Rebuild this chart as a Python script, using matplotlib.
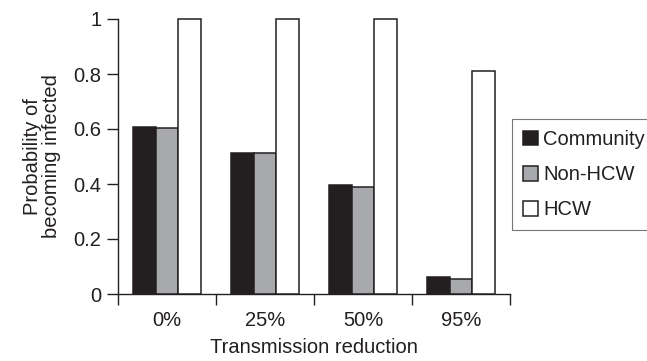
import numpy as np
import matplotlib.pyplot as plt

plt.rcParams['font.family'] = ['Liberation Sans', 'DejaVu Sans']

categories = ['0%', '25%', '50%', '95%']
community = [0.607, 0.513, 0.396, 0.062]
non_hcw = [0.604, 0.513, 0.389, 0.055]
hcw = [1.0, 1.0, 1.0, 0.81]
series = ['Community', 'Non-HCW', 'HCW']
y_ticks = [0, 0.2, 0.4, 0.6, 0.8, 1]
y_labels = ['0', '0.2', '0.4', '0.6', '0.8', '1']

fs = 14.5
ink = '#231f20'

fig = plt.figure(figsize=(6.47, 3.61), dpi=100)
ax = fig.add_axes([118 / 647, 67 / 361, 392 / 647, 275 / 361])

x = np.arange(len(categories))
w = 0.23
colors = [ink, '#a7a9ac', 'white']
for i, (vals, c, name) in enumerate(zip([community, non_hcw, hcw], colors, series)):
    ax.bar(x + (i - 1) * w, vals, width=w, color=c, edgecolor=ink,
           linewidth=1.1, label=name, clip_on=False, zorder=3)

ax.set_xlim(-0.5, len(categories) - 0.5)
ax.set_ylim(0, 1)
ax.set_xticks(x)
ax.set_xticklabels(categories)
ax.set_xticks(np.arange(len(categories) + 1) - 0.5, minor=True)
ax.tick_params(axis='x', which='major', length=0, pad=12)
ax.tick_params(axis='x', which='minor', length=8, width=1, direction='out', color=ink)
ax.set_yticks(y_ticks)
ax.set_yticklabels(y_labels)
ax.tick_params(axis='y', length=8, width=1, direction='out', color=ink, pad=4)
ax.tick_params(labelsize=fs, labelcolor=ink)

for s in ['top', 'right']:
    ax.spines[s].set_visible(False)
for s in ['left', 'bottom']:
    ax.spines[s].set_color(ink)
    ax.spines[s].set_linewidth(1)

ax.set_xlabel('Transmission reduction', fontsize=fs, color=ink, labelpad=6)
ax.set_ylabel('Probability of\nbecoming infected', fontsize=fs, color=ink,
              labelpad=9, linespacing=1.0)

leg = fig.legend(loc='upper left', bbox_to_anchor=(512 / 647, 1 - 119 / 361),
                 fontsize=fs, frameon=True, fancybox=False, edgecolor='#555555',
                 handlelength=0.75, handleheight=0.75, handletextpad=0.25,
                 labelspacing=0.8, borderpad=0.55, borderaxespad=0)
leg.get_frame().set_linewidth(0.8)
for t in leg.get_texts():
    t.set_color(ink)

fig.savefig('out.png', dpi=100)
